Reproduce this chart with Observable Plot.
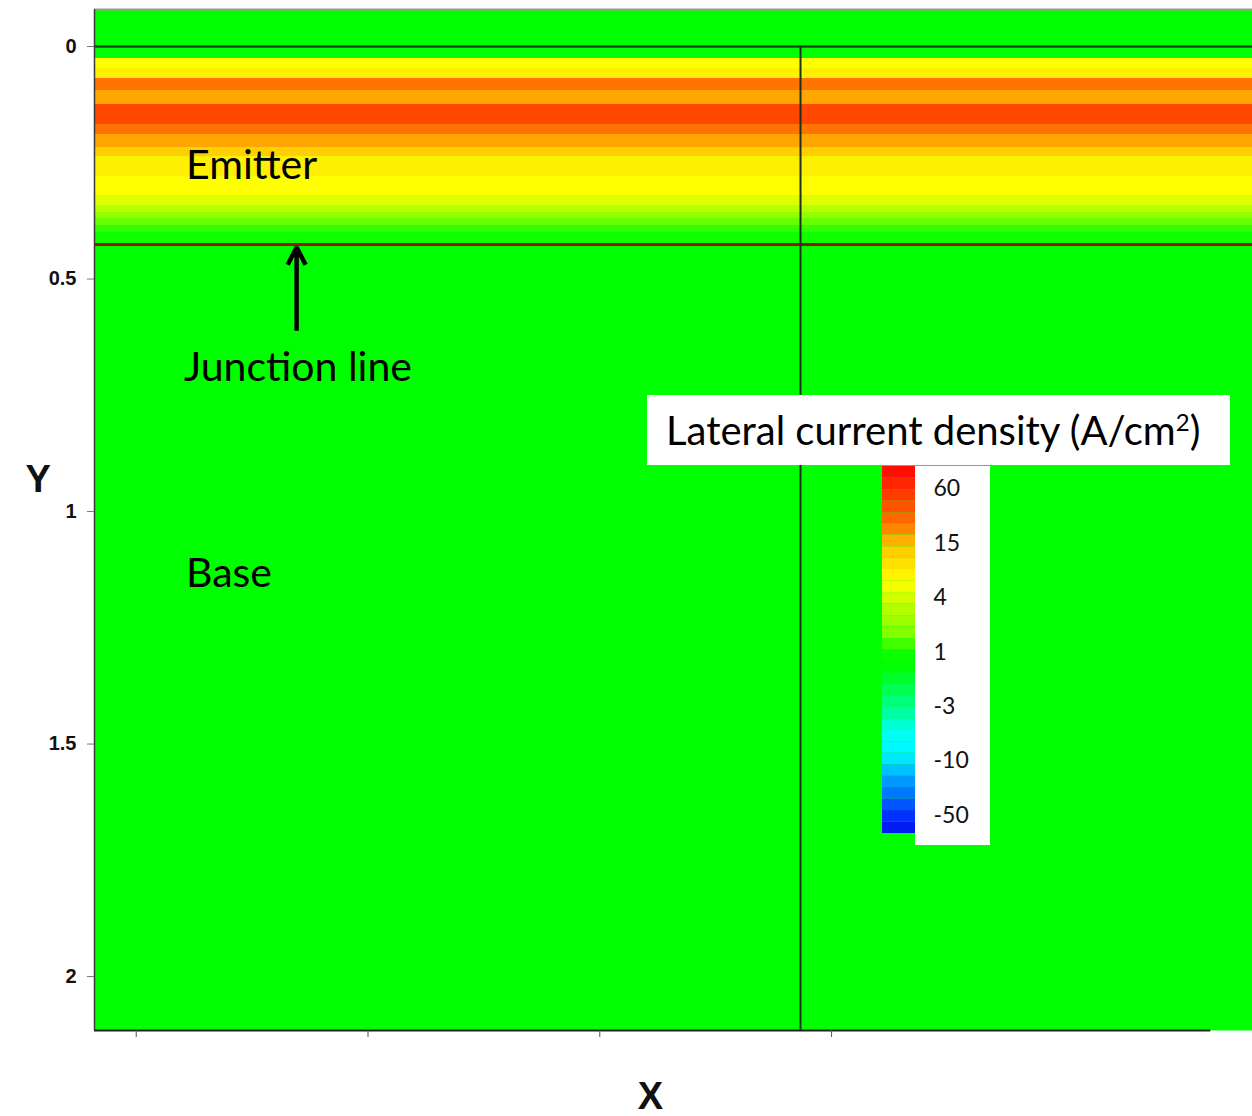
<!DOCTYPE html>
<html><head><meta charset="utf-8">
<script src="https://cdn.jsdelivr.net/npm/d3@7"></script>
<script src="https://cdn.jsdelivr.net/npm/@observablehq/plot@0.6"></script>
<style>
body{margin:0;background:#fff;}
#wrap{position:relative;width:1252px;height:1116px;overflow:hidden;}
#wrap > *{position:absolute;}
#title{left:647px;top:395px;width:583px;height:70px;background:#fff;font-family:Lato,sans-serif;font-size:40px;line-height:70px;padding-left:19px;box-sizing:border-box;color:#000;white-space:nowrap;}
#title sup{font-size:60%;line-height:0;}
#labelbox{left:915px;top:466px;width:75px;height:379px;background:#fff;}
</style></head><body><div id="wrap"></div>
<script>
// ---- axes ----
const yTicks = [0, 0.5, 1, 1.5, 2];
const xTicks = [0, 0.5, 1, 1.5];
const xDomain = [-0.09, 2.408];
const yDomain = [-0.0796, 2.116];
const xAxisEnd = 2.318;

// ---- structure ----
const junctionDepth = 0.426;
const cutX = 1.433;

// ---- emitter lateral current density profile (rows across depth) ----
const bandTop    = [0.0258, 0.0473, 0.0688, 0.0946, 0.1247, 0.1677, 0.1892, 0.2172, 0.2366, 0.2796, 0.3204, 0.3419, 0.3570, 0.3699, 0.3849, 0.4000];
const bandBottom = [0.0473, 0.0688, 0.0946, 0.1247, 0.1677, 0.1892, 0.2172, 0.2366, 0.2796, 0.3204, 0.3419, 0.3570, 0.3699, 0.3849, 0.4000, 0.4237];
const bandValue  = [7, 9, 30, 20, 50, 30, 20, 13, 9, 7, 5, 3.5, 2.5, 1.8, 1.3, 0.8];

// ---- annotations ----
const annoText = ["Emitter", "Junction line", "Base"];
const annoX = [0.1075, 0.103, 0.1075];
const annoY = [0.256, 0.690, 1.133];
const arrowFrom = {x: 0.346, y: 0.611};
const arrowTo = {x: 0.346, y: 0.432};

// ---- colour legend ----
const legendTicks = [60, 15, 4, 1, -3, -10, -50];
const legendAnchors = [100, 60, 15, 4, 1, -3, -10, -50, -80];
const legendBounds = [100, 79, 59, 50, 40, 31, 22, 14.3, 12, 9.7, 7.3, 5, 3.64, 3.01, 2.39, 1.76, 1.14, 0.33, -0.51, -1.36, -2.22, -3.06, -4.6, -6.1, -7.6, -9.05, -13.1, -21.3, -29.7, -38.1, -46.4, -60.8, -80];
const colorStops = [-80, -50, -20, -10, -7.5, -5, -3, 0, 1, 2, 4, 7, 15, 30, 60, 100];
const colorRange = ["#0010ee","#0035ff","#00b0ff","#00eeff","#00ffff","#00ffcc","#00ff88","#00ff00","#10ff00","#80ff00","#ccff00","#ffff00","#ffc000","#ff7400","#ff3000","#ff0000"];

const colorOpts = {type: "linear", domain: colorStops, range: colorRange, interpolate: "rgb", legend: false};

const bandRows = bandTop.map((t, i) => ({top: t, bottom: bandBottom[i], value: bandValue[i]}));
const annos = annoText.map((t, i) => ({label: t, x: annoX[i], y: annoY[i]}));
const legendSteps = legendBounds.slice(0, -1).map((hi, i) => ({hi, lo: legendBounds[i + 1], mid: (hi + legendBounds[i + 1]) / 2}));

// colour-bar position: the legend labels are evenly spaced, so map values piecewise onto them
const legendH = 367;
const legendPos = d3.scaleLinear()
  .domain(legendAnchors)
  .range([0, 22, 77, 131, 186, 240, 294, 349, 367]);

const tickFont = "'Liberation Sans', Arial, sans-serif";
const annoFont = "Lato, 'Open Sans', sans-serif";

const main = Plot.plot({
  width: 1252, height: 1116,
  marginTop: 9, marginLeft: 94, marginRight: 0, marginBottom: 86,
  x: {domain: xDomain, axis: null},
  y: {domain: yDomain, reverse: true, axis: null},
  color: colorOpts,
  marks: [
    Plot.frame({fill: "#00ff00", stroke: "none"}),
    Plot.rect(bandRows, {y1: "top", y2: "bottom", fill: "value"}),
    Plot.ruleY([yDomain[0]], {stroke: "#9a9a9a", strokeWidth: 2}),
    Plot.ruleX([xDomain[0]], {stroke: "#3a3a3a", strokeWidth: 1.5}),
    Plot.ruleY([0], {stroke: "#1c4a1c", strokeWidth: 2.5}),
    Plot.ruleY([junctionDepth], {stroke: "#9a1208", strokeWidth: 3}),
    Plot.ruleX([cutX], {y1: 0, y2: yDomain[1], stroke: "#1e2e1e", strokeWidth: 2}),
    Plot.ruleY([yDomain[1]], {x1: xDomain[0], x2: xAxisEnd, stroke: "#222", strokeWidth: 2}),
    Plot.axisY({ticks: yTicks, tickSize: 7, tickPadding: 11, stroke: "#777", fill: "#111",
      fontSize: 20, fontWeight: "bold", fontFamily: tickFont, tickFormat: d => String(d), label: null}),
    Plot.axisX({ticks: xTicks, tickSize: 7, stroke: "#555", tickFormat: () => "", label: null}),
    Plot.text(annos, {x: "x", y: "y", text: "label", textAnchor: "start", lineAnchor: "middle",
      fontSize: 41, fontFamily: annoFont, fill: "#000"}),
    Plot.arrow([{x1: arrowFrom.x, y1: arrowFrom.y, x2: arrowTo.x, y2: arrowTo.y}],
      {x1: "x1", y1: "y1", x2: "x2", y2: "y2", stroke: "#000", strokeWidth: 4.5, headLength: 6.5, headAngle: 55,
       strokeLinecap: "butt", strokeLinejoin: "miter"}),
    Plot.text(["Y"], {text: d => d, frameAnchor: "left", dx: -69, dy: -40, fontSize: 38, fontWeight: "bold",
      fontFamily: tickFont, fill: "#111", lineAnchor: "middle"}),
    Plot.text(["X"], {text: d => d, frameAnchor: "bottom", dx: -23, dy: 66, fontSize: 38, fontWeight: "bold",
      fontFamily: tickFont, fill: "#111", lineAnchor: "middle"})
  ]
});

const legend = Plot.plot({
  width: 108, height: 379,
  marginTop: 0, marginLeft: 0, marginRight: 75, marginBottom: 12,
  style: {background: "transparent", overflow: "visible"},
  x: {axis: null},
  y: {domain: [0, legendH], range: [0, legendH], axis: null},
  color: colorOpts,
  marks: [
    Plot.rect(legendSteps, {y1: d => legendPos(d.hi), y2: d => legendPos(d.lo), fill: "mid"}),
    Plot.text(legendTicks, {y: d => legendPos(d), text: d => String(d), frameAnchor: "right", dx: 18,
      textAnchor: "start", lineAnchor: "middle", fontSize: 23, fontFamily: annoFont, fill: "#111"})
  ]
});

const wrap = document.getElementById("wrap");
main.style.left = "0px"; main.style.top = "0px";
wrap.appendChild(main);
const box = document.createElement("div"); box.id = "labelbox"; wrap.appendChild(box);
const title = document.createElement("div"); title.id = "title";
title.innerHTML = "Lateral current density (A/cm<sup>2</sup>)";
wrap.appendChild(title);
legend.style.left = "882px"; legend.style.top = "466px";
wrap.appendChild(legend);
</script></body></html>
